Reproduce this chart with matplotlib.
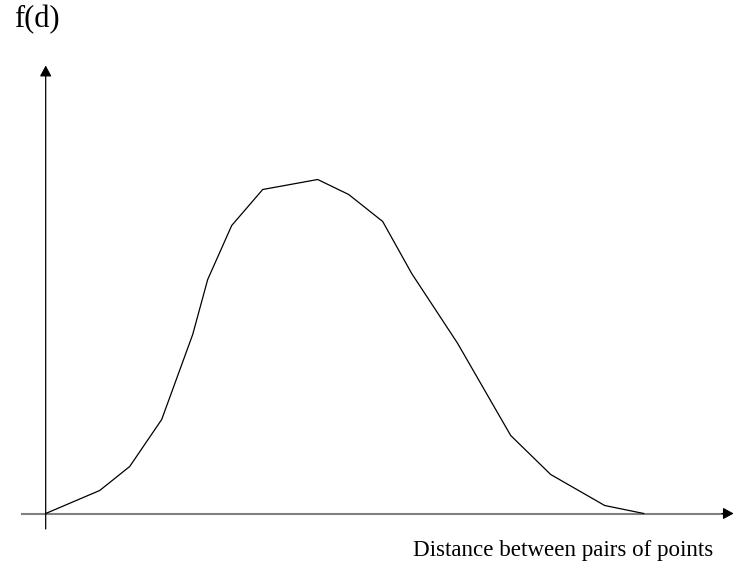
import matplotlib.pyplot as plt

# Distribution of pairwise distances (arbitrary units)
distance = [0, 54, 84, 116, 147, 162, 186, 217, 272, 303, 337, 366, 412, 465, 505, 559, 598]
f_d = [0, 23, 47, 94, 179, 234, 288, 324, 334, 319, 292, 240, 170, 78, 39, 8, 0]

plt.rcParams['font.family'] = ['Liberation Serif', 'DejaVu Serif']

fig = plt.figure(figsize=(7.34, 5.67), dpi=100)
ax = fig.add_axes([0, 0, 1, 1])
ax.set_xlim(-45.7, 688.3)
ax.set_ylim(-53.5, 513.5)
ax.axis('off')

# Hand-drawn style axes with arrow heads
arrow = dict(arrowstyle='-|>,head_length=0.65,head_width=0.35', mutation_scale=10,
             shrinkA=0, shrinkB=0)
ax.plot([-24, 682], [0, 0], color='#808080', lw=1.5)
ax.annotate('', xy=(688, 0), xytext=(676, 0),
            arrowprops=dict(arrow, color='black', lw=0.8))
ax.annotate('', xy=(0, 448), xytext=(0, -15.5),
            arrowprops=dict(arrow, color='black', lw=0.9))

ax.plot(distance, f_d, color='black', lw=0.9)

ax.text(-31.7, 486, 'f(d)', fontsize=22, ha='left', va='baseline')
ax.text(367.3, -42.5, 'Distance between pairs of points', fontsize=16.6,
        ha='left', va='baseline')

fig.savefig('out.png', dpi=100)
